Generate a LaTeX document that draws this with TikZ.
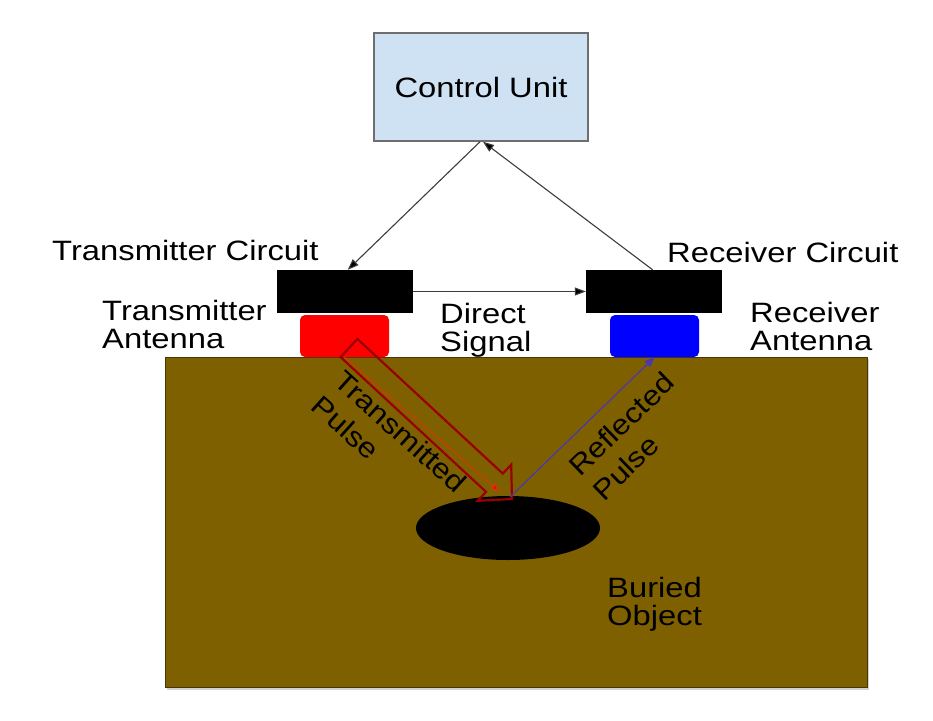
\documentclass[tikz,border=0pt]{standalone}
\usepackage{fontspec}
\setmainfont{Liberation Sans}
\usetikzlibrary{arrows.meta,shapes.geometric,calc}
\definecolor{cublue}{RGB}{207,226,243}
\definecolor{cugray}{RGB}{110,110,110}
\definecolor{ground}{RGB}{127,96,0}
\definecolor{groundedge}{RGB}{70,55,10}
\definecolor{hollowred}{RGB}{153,0,0}
\definecolor{pulseline}{RGB}{205,60,0}
\definecolor{reflline}{RGB}{75,55,175}
\definecolor{connline}{RGB}{60,60,60}
\begin{document}
\begin{tikzpicture}[x=1pt,y=-1pt,
  txt/.style={font=\fontsize{28}{28.5}\selectfont, inner sep=0, align=left, text=black},
  hlbl/.style={txt, anchor=north west, xscale=1.17},
  rtxt/.style={font=\fontsize{28}{34}\selectfont, inner sep=0, align=left, text=black, anchor=north west},
  conn/.style={draw=connline, line width=1.1, -{Triangle[length=11pt,width=8pt,fill=black]}},
  circuitbox/.style={fill=black, minimum width=136, minimum height=43, inner sep=0},
  antbox/.style={rounded corners=5, minimum width=89, minimum height=42, inner sep=0}
]
\useasboundingbox (0,0) rectangle (933,720);

% ground
\fill[gray!35] (167,359) rectangle (869,690);
\node[fill=ground, draw=groundedge, line width=1, minimum width=702, minimum height=330, inner sep=0] (gr) at (516,522) {};

% control unit
\node[draw=cugray, line width=1.5, fill=cublue, minimum width=214, minimum height=108, inner sep=0] (cu) at (481,87) {};
\node[txt, xscale=1.17] (cut) at (cu.center) {Control Unit};

% circuits and antennas
\node[circuitbox] (tc) at (345,291.5) {};
\node[circuitbox] (rc) at (654,291.5) {};
\node[antbox, fill=red] (ta) at (344.5,336) {};
\node[antbox, fill=blue] (ra) at (654.5,336) {};

% buried object
\node[ellipse, fill=black, minimum width=184, minimum height=64, inner sep=0] (obj) at (508,528) {};

% control connectors
\draw[conn] ($(cu.south)+(-1,0)$) -- ($(tc.north west)!0.52!(tc.north east)$);
\draw[conn] ($(rc.north west)!0.49!(rc.north east)$) -- ($(cu.south)+(2,0)$);
\draw[conn] (tc.east) -- (rc.west);

% transmitted pulse (hollow arrow)
\draw[hollowred, line width=2.2, line join=miter]
  (357.4,338.9) -- (502.8,473.6) -- (511.2,464.6) -- (512,499) -- (477.6,500.8)
  -- (486.0,491.8) -- (340.6,357.1) -- cycle;
\coordinate (tpend) at (500,492);
\draw[pulseline, line width=1.1, -{Latex[length=9pt,width=8pt,fill=red]}] (ta.south) -- (tpend);

% reflected pulse
\coordinate (rstart) at (510,497);
\draw[reflline, line width=1.2, -{Triangle[length=10pt,width=8pt]}] (rstart) -- (ra.south);

% labels
\node[hlbl] (tcl) at (52,240) {Transmitter Circuit};
\node[hlbl] (tal) at (102,300) {Transmitter\\Antenna};
\node[hlbl] (dsl) at (440,303) {Direct\\Signal};
\node[hlbl] (rcl) at (667,242) {Receiver Circuit};
\node[hlbl] (ral) at (750,302) {Receiver\\Antenna};
\node[hlbl] (bol) at (607,577) {Buried\\Object};
\node[rtxt, rotate=-42, xscale=1.13] (tpl) at (346,368) {Transmitted\\Pulse};
\node[rtxt, rotate=44, xscale=1.13] (rpl) at (566,463) {Reflected\\Pulse};
\end{tikzpicture}
\end{document}
